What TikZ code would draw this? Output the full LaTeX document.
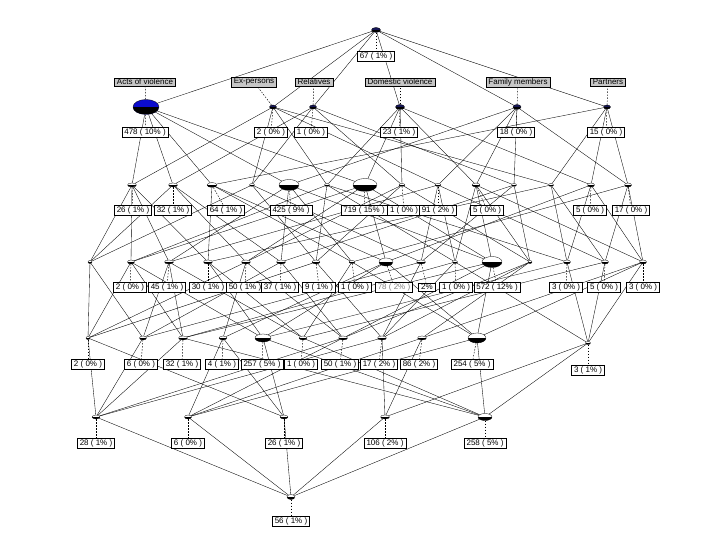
\documentclass[tikz,border=0pt]{standalone}
\usepackage{fontspec}
\setmainfont{Liberation Sans}
\usetikzlibrary{shapes.geometric,backgrounds,shadows}
\definecolor{navyc}{RGB}{22,22,88}
\definecolor{violblue}{RGB}{12,12,205}

\tikzset{
  cpt/.style 2 args={ellipse,draw,line width=.3pt,inner sep=0pt,
    minimum width=#1,minimum height=#2,fill=white,
    path picture={\fill[black] (path picture bounding box.west)
      rectangle (path picture bounding box.south east);}},
  attcpt/.style={fill=navyc},
  olab/.style={draw,fill=white,line width=.5pt,inner xsep=2.5pt,inner ysep=1.3pt,
    font=\fontsize{8}{9}\selectfont,
    drop shadow={shadow xshift=.7pt,shadow yshift=-.7pt,fill=black,opacity=1}},
  alab/.style={olab,fill=gray!45},
  edge/.style={line width=.35pt},
  lnk/.style={line width=.45pt,dash pattern=on 1.5pt off 1.5pt}
}

\begin{document}
\begin{tikzpicture}[x=1pt,y=-1pt]
  \useasboundingbox (0,0) rectangle (720,540);

  % top concept and attribute concepts
  \node[cpt={9pt}{5pt},attcpt] (top) at (376,30) {};
  \node[cpt={26pt}{15pt},fill=violblue] (a1) at (146,107) {};
  \node[cpt={7pt}{4pt},attcpt] (a2) at (273,107) {};
  \node[cpt={7pt}{4pt},attcpt] (a3) at (313,107) {};
  \node[cpt={9pt}{5pt},attcpt] (a4) at (400,107) {};
  \node[cpt={8pt}{5pt},attcpt] (a5) at (517,107) {};
  \node[cpt={7pt}{4pt},attcpt] (a6) at (607,107) {};

  % level 2
  \node[cpt={9pt}{4pt}] (b1) at (132,185) {};
  \node[cpt={9pt}{4pt}] (b2) at (173,185) {};
  \node[cpt={10pt}{5pt}] (b3) at (212,185) {};
  \node[cpt={5pt}{3pt}] (b4) at (252,185) {};
  \node[cpt={20pt}{11pt}] (b5) at (289,185) {};
  \node[cpt={5pt}{3pt}] (b6) at (327,185) {};
  \node[cpt={24pt}{13pt}] (b7) at (365,185) {};
  \node[cpt={6pt}{3pt}] (b8) at (402,185) {};
  \node[cpt={6pt}{3pt}] (b9) at (438,185) {};
  \node[cpt={8pt}{4pt}] (b10) at (476,185) {};
  \node[cpt={5pt}{3pt}] (b11) at (514,185) {};
  \node[cpt={5pt}{3pt}] (b12) at (551,185) {};
  \node[cpt={7pt}{4pt}] (b13) at (591,185) {};
  \node[cpt={7pt}{4pt}] (b14) at (628,185) {};

  % level 3
  \node[cpt={4pt}{3pt}] (c1) at (90,262) {};
  \node[cpt={7pt}{4pt}] (c2) at (131,262) {};
  \node[cpt={9pt}{4pt}] (c3) at (169,262) {};
  \node[cpt={9pt}{4pt}] (c4) at (208,262) {};
  \node[cpt={9pt}{4pt}] (c5) at (246,262) {};
  \node[cpt={9pt}{4pt}] (c6) at (281,262) {};
  \node[cpt={8pt}{4pt}] (c7) at (316,262) {};
  \node[cpt={6pt}{3pt}] (c8) at (352,262) {};
  \node[cpt={14pt}{8pt}] (c9) at (386,262) {};
  \node[cpt={9pt}{4pt}] (c10) at (421,262) {};
  \node[cpt={5pt}{3pt}] (c11) at (455,262) {};
  \node[cpt={20pt}{11pt}] (c12) at (492,262) {};
  \node[cpt={4pt}{3pt}] (c13) at (530,262) {};
  \node[cpt={7pt}{4pt}] (c14) at (567,262) {};
  \node[cpt={7pt}{4pt}] (c15) at (605,262) {};
  \node[cpt={7pt}{4pt}] (c16) at (643,262) {};

  % level 4
  \node[cpt={4pt}{3pt}] (d1) at (88,338) {};
  \node[cpt={7pt}{4pt}] (d2) at (143,338) {};
  \node[cpt={9pt}{4pt}] (d3) at (183,338) {};
  \node[cpt={8pt}{4pt}] (d4) at (223,338) {};
  \node[cpt={16pt}{8pt}] (d5) at (263,338) {};
  \node[cpt={8pt}{4pt}] (d6) at (303,338) {};
  \node[cpt={9pt}{4pt}] (d7) at (343,338) {};
  \node[cpt={9pt}{4pt}] (d8) at (382,338) {};
  \node[cpt={9pt}{4pt}] (d9) at (422,338) {};
  \node[cpt={18pt}{10pt}] (d10) at (477,338) {};
  \node[cpt={5pt}{3pt}] (d11) at (588,343) {};

  % level 5 and bottom
  \node[cpt={8pt}{4pt}] (e1) at (96,417) {};
  \node[cpt={7pt}{4pt}] (e2) at (188,417) {};
  \node[cpt={8pt}{4pt}] (e3) at (284,417) {};
  \node[cpt={9pt}{4pt}] (e4) at (385,417) {};
  \node[cpt={14pt}{7pt}] (e5) at (485,417) {};
  \node[cpt={8pt}{5pt}] (bot) at (291,497) {};

  % attribute labels
  \node[alab] (tA) at (145,82) {Acts of violence};
  \node[alab] (tE) at (254,82) {Ex-persons};
  \node[alab] (tR) at (314,82) {Relatives};
  \node[alab] (tD) at (400,82) {Domestic violence};
  \node[alab] (tF) at (518,82) {Family members};
  \node[alab] (tP) at (608,82) {Partners};

  % object labels
  \node[olab] (ltop) at (376,56) {67 ( 1\% )};
  \node[olab] (la1) at (145,132) {478 ( 10\% )};
  \node[olab] (la2) at (271,132) {2 ( 0\% )};
  \node[olab] (la3) at (311,132) {1 ( 0\% )};
  \node[olab] (la4) at (399,132) {23 ( 1\% )};
  \node[olab] (la5) at (516,132) {18 ( 0\% )};
  \node[olab] (la6) at (606,132) {15 ( 0\% )};

  \node[olab] (lb1) at (133,210) {26 ( 1\% )};
  \node[olab] (lb2) at (173,210) {32 ( 1\% )};
  \node[olab] (lb3) at (226,210) {64 ( 1\% )};
  \node[olab] (lb5) at (291,210) {425 ( 9\% )};
  \node[olab] (lb7) at (364,210) {719 ( 15\% )};
  \node[olab] (lb8) at (404,210) {1 ( 0\% )};
  \node[olab] (lb9) at (438,210) {91 ( 2\% )};
  \node[olab] (lb10) at (487,210) {5 ( 0\% )};
  \node[olab] (lb13) at (590,210) {5 ( 0\% )};
  \node[olab] (lb14) at (631,210) {17 ( 0\% )};

  \node[olab] (lc2) at (130,287) {2 ( 0\% )};
  \node[olab] (lc3) at (167,287) {45 ( 1\% )};
  \node[olab] (lc4) at (208,287) {30 ( 1\% )};
  \node[olab] (lc5) at (245,287) {50 ( 1\% )};
  \node[olab] (lc6) at (280,287) {37 ( 1\% )};
  \node[olab] (lc7) at (319,287) {9 ( 1\% )};
  \node[olab] (lc8) at (355,287) {1 ( 0\% )};
  \node[olab,font=\fontsize{8}{9}\selectfont\color{gray}] (lc9) at (394,287) {78 ( 2\% )};
  \node[olab] (lc10) at (427,287) {2\%};
  \node[olab] (lc11) at (456,287) {1 ( 0\% )};
  \node[olab] (lc12) at (497,287) {572 ( 12\% )};
  \node[olab] (lc14) at (566,287) {3 ( 0\% )};
  \node[olab] (lc15) at (604,287) {5 ( 0\% )};
  \node[olab] (lc16) at (643,287) {3 ( 0\% )};

  \node[olab] (ld1) at (88,364) {2 ( 0\% )};
  \node[olab] (ld2) at (141,364) {6 ( 0\% )};
  \node[olab] (ld3) at (182,364) {32 ( 1\% )};
  \node[olab] (ld4) at (222,364) {4 ( 1\% )};
  \node[olab] (ld5) at (262,364) {257 ( 5\% )};
  \node[olab] (ld6) at (301,364) {1 ( 0\% )};
  \node[olab] (ld7) at (340,364) {50 ( 1\% )};
  \node[olab] (ld8) at (379,364) {17 ( 2\% )};
  \node[olab] (ld9) at (419,364) {86 ( 2\% )};
  \node[olab] (ld10) at (472,364) {254 ( 5\% )};
  \node[olab] (ld11) at (588,370) {3 ( 1\% )};

  \node[olab] (le1) at (96,443) {28 ( 1\% )};
  \node[olab] (le2) at (188,443) {6 ( 0\% )};
  \node[olab] (le3) at (284,443) {26 ( 1\% )};
  \node[olab] (le4) at (385,443) {106 ( 2\% )};
  \node[olab] (le5) at (485,443) {258 ( 5\% )};
  \node[olab] (lbot) at (291,521) {56 ( 1\% )};

  \begin{scope}[on background layer]
    % lattice edges
    \foreach \a in {a1,a2,a3,a4,a5,a6}
      \draw[edge] (top) -- (\a);
    \foreach \c/\p in {b1/a1,b1/a2,b2/a1,b2/a3,b3/a1,b3/a6,b4/a2,b4/a3,
        b5/a1,b5/a5,b6/a2,b6/a4,b7/a1,b7/a4,b8/a3,b8/a4,b9/a2,b9/a5,
        b10/a4,b10/a5,b11/a3,b11/a5,b12/a2,b12/a6,b13/a4,b13/a6,b14/a5,b14/a6}
      \draw[edge] (\c) -- (\p);
    \foreach \c/\p in {c1/b1,c1/b2,c1/b4,c2/b1,c2/b7,c2/b6,c3/b1,c3/b5,c3/b9,
        c4/b1,c4/b3,c4/b12,c5/b2,c5/b7,c5/b8,c6/b2,c6/b5,c6/b11,
        c7/b4,c7/b6,c7/b8,c8/b5,c8/b3,c8/b14,c9/b7,c9/b3,c9/b13,
        c10/b4,c10/b9,c10/b11,c11/b6,c11/b9,c11/b10,c12/b7,c12/b5,c12/b10,
        c13/b8,c13/b11,c13/b10,c14/b6,c14/b12,c14/b13,c15/b9,c15/b12,c15/b14,
        c16/b10,c16/b13,c16/b14}
      \draw[edge] (\c) -- (\p);
    \foreach \c/\p in {d1/c1,d1/c2,d1/c5,d1/c7,d2/c1,d2/c3,d2/c6,d2/c10,
        d3/c2,d3/c3,d3/c12,d3/c11,d4/c5,d4/c9,d5/c2,d5/c4,d5/c9,d5/c14,
        d6/c3,d6/c4,d6/c8,d6/c15,d7/c5,d7/c6,d7/c12,d7/c13,
        d8/c7,d8/c10,d8/c11,d8/c13,d9/c13,d9/c16,d10/c12,d10/c9,d10/c8,d10/c16,
        d11/c11,d11/c14,d11/c15,d11/c16}
      \draw[edge] (\c) -- (\p);
    \foreach \c/\p in {e1/d1,e1/d2,e1/d3,e1/d7,e1/d8,e2/d7,e2/d4,e2/d10,e2/d9,
        e3/d1,e3/d5,e3/d4,e4/d8,e4/d11,e4/d9,e5/d3,e5/d5,e5/d6,e5/d10,e5/d11}
      \draw[edge] (\c) -- (\p);
    \foreach \e in {e1,e2,e3,e4,e5}
      \draw[edge] (bot) -- (\e);

    % dashed links to the labels
    \foreach \n/\t in {a1/tA,a2/tE,a3/tR,a4/tD,a5/tF,a6/tP}
      \draw[lnk] (\n) -- (\t);
    \foreach \n/\t in {top/ltop,a1/la1,a2/la2,a3/la3,a4/la4,a5/la5,a6/la6,
        b1/lb1,b2/lb2,b3/lb3,b5/lb5,b7/lb7,b8/lb8,b9/lb9,b10/lb10,b13/lb13,b14/lb14,
        c2/lc2,c3/lc3,c4/lc4,c5/lc5,c6/lc6,c7/lc7,c8/lc8,c9/lc9,c10/lc10,c11/lc11,
        c12/lc12,c14/lc14,c15/lc15,c16/lc16,
        d1/ld1,d2/ld2,d3/ld3,d4/ld4,d5/ld5,d6/ld6,d7/ld7,d8/ld8,d9/ld9,d10/ld10,d11/ld11,
        e1/le1,e2/le2,e3/le3,e4/le4,e5/le5,bot/lbot}
      \draw[lnk] (\n) -- (\t);
  \end{scope}
\end{tikzpicture}
\end{document}
